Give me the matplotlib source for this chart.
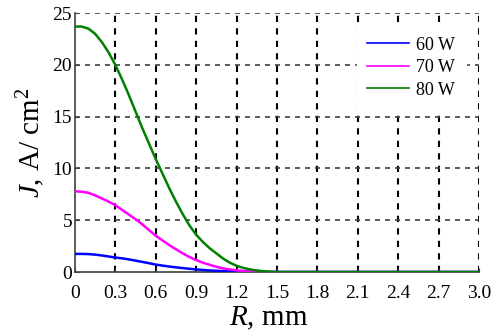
import matplotlib
matplotlib.use("Agg")
from matplotlib import pyplot as plt

# radius, mm
r = [0.0, 0.05, 0.1, 0.15, 0.2, 0.25, 0.3, 0.35, 0.4, 0.45, 0.5, 0.55, 0.6, 0.65,
     0.7, 0.75, 0.8, 0.85, 0.9, 0.95, 1.0, 1.05, 1.1, 1.15, 1.2, 1.25, 1.3, 1.35,
     1.4, 1.45, 1.5, 1.8, 2.1, 2.4, 2.7, 3.0]

j_60 = [1.75, 1.75, 1.73, 1.68, 1.6, 1.5, 1.4, 1.32, 1.22, 1.1, 0.98, 0.85, 0.72, 0.62,
        0.53, 0.45, 0.38, 0.31, 0.25, 0.2, 0.15, 0.12, 0.09, 0.07, 0.05, 0.04, 0.03, 0.02,
        0.01, 0.0, 0.0, 0.0, 0.0, 0.0, 0.0, 0.0]
j_70 = [7.8, 7.75, 7.65, 7.4, 7.1, 6.8, 6.45, 6.0, 5.55, 5.1, 4.6, 4.05, 3.5, 3.05,
        2.6, 2.2, 1.8, 1.45, 1.15, 0.9, 0.7, 0.5, 0.36, 0.25, 0.16, 0.11, 0.07, 0.05,
        0.03, 0.01, 0.0, 0.0, 0.0, 0.0, 0.0, 0.0]
j_80 = [23.7, 23.7, 23.5, 23.0, 22.2, 21.2, 20.0, 18.6, 17.1, 15.5, 13.9, 12.4, 10.9, 9.5,
        8.1, 6.8, 5.6, 4.5, 3.6, 2.9, 2.3, 1.8, 1.3, 0.9, 0.6, 0.4, 0.25, 0.15,
        0.08, 0.04, 0.0, 0.0, 0.0, 0.0, 0.0, 0.0]

series = [("60 W", j_60, "#0000ff"), ("70 W", j_70, "#ff00ff"), ("80 W", j_80, "#008000")]
xticks = [0, 0.3, 0.6, 0.9, 1.2, 1.5, 1.8, 2.1, 2.4, 2.7, 3.0]
xticklabels = ["0", "0.3", "0.6", "0.9", "1.2", "1.5", "1.8", "2.1", "2.4", "2.7", "3.0"]
yticks = [0, 5, 10, 15, 20, 25]

plt.rcParams["font.family"] = "Liberation Serif"
plt.rcParams["mathtext.fontset"] = "custom"
plt.rcParams["mathtext.rm"] = "Liberation Serif"
plt.rcParams["mathtext.it"] = "Liberation Serif:italic"

fig = plt.figure(figsize=(4.96, 3.35), dpi=100)
ax = fig.add_axes([0.151, 0.188, 0.815, 0.773])

for label, vals, color in series:
    ax.plot(r, vals, color=color, lw=1.8, label=label, zorder=3)

ax.set_xlim(0, 3.0)
ax.set_ylim(0, 25)
ax.set_xticks(xticks)
ax.set_xticklabels(xticklabels)
ax.set_yticks(yticks)

for x in xticks[1:]:
    ax.axvline(x, color="black", ls=(0, (3, 3)), lw=1.5, zorder=1)
for y in yticks[1:]:
    ax.axhline(y, color="#404040", ls=(0, (3, 3)), lw=1.2, zorder=1)

for side in ["top", "right"]:
    ax.spines[side].set_visible(False)
for side in ["left", "bottom"]:
    ax.spines[side].set_color("#404040")
    ax.spines[side].set_linewidth(1.2)

ax.tick_params(direction="in", length=3, labelsize=14, color="#404040")
ax.tick_params(axis="x", pad=9)
ax.tick_params(axis="y", pad=2)

ax.set_xlabel(r"$\mathit{R}$, mm", fontsize=21)
ax.xaxis.set_label_coords(0.48, -0.125)
ax.set_ylabel(r"$\mathit{J}$, A/ cm$^{2}$", fontsize=21, labelpad=4)

leg = ax.legend(loc="upper right", bbox_to_anchor=(0.99, 0.985), frameon=True,
                fontsize=13, handlelength=2.3, handletextpad=0.4, labelspacing=0.3,
                borderpad=0.6, fancybox=False)
leg.get_frame().set_edgecolor("white")
leg.get_frame().set_facecolor("white")
leg.get_frame().set_alpha(1)
for line in leg.get_lines():
    line.set_linewidth(1.2)

fig.savefig("out.png", dpi=100)
